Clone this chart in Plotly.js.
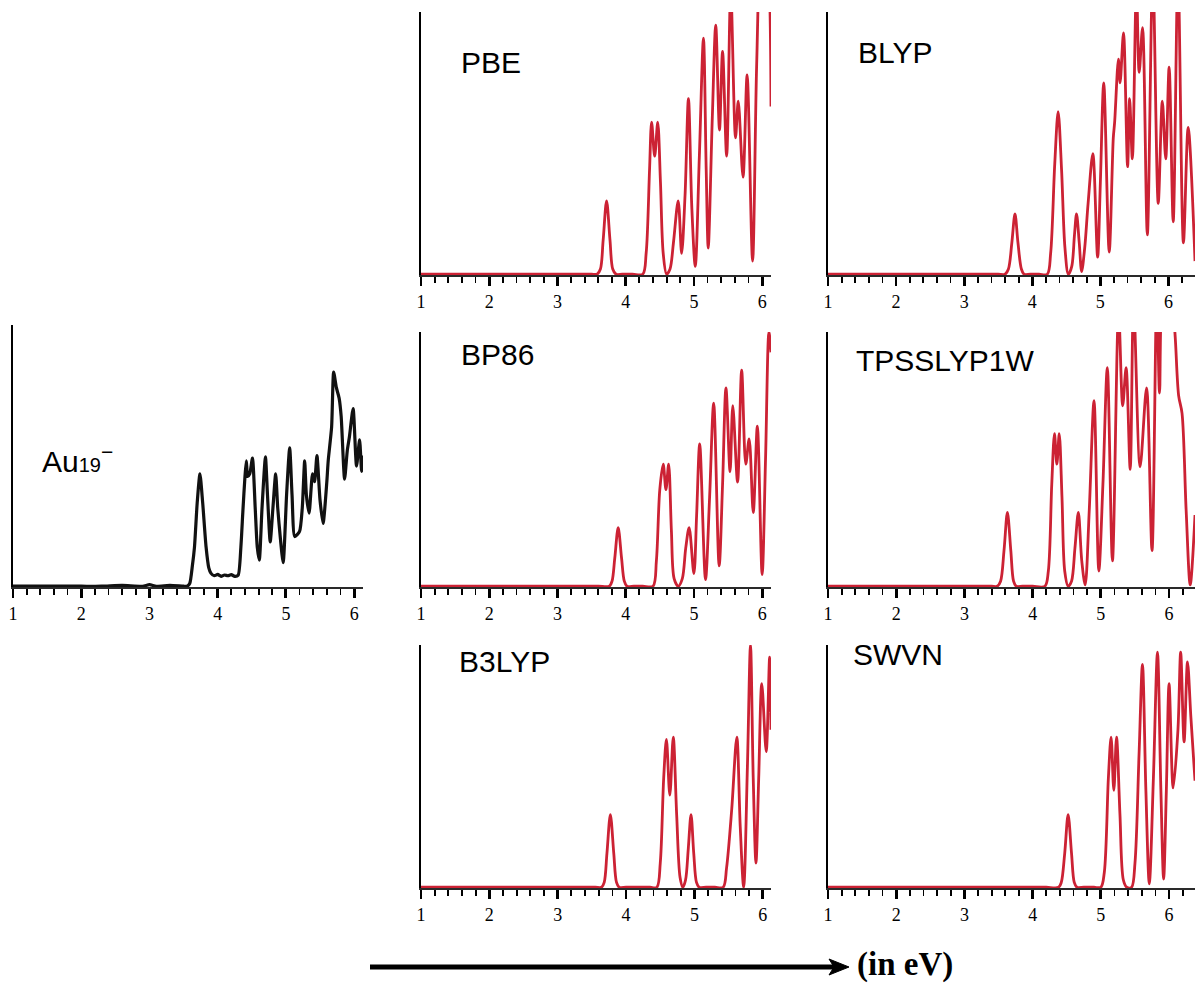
<!DOCTYPE html>
<html>
<head>
<meta charset="utf-8">
<script src="https://cdn.plot.ly/plotly-3.0.1.min.js"></script>
<style>html,body{margin:0;padding:0;background:#fff;}#chart{width:1195px;height:984px;}</style>
</head>
<body>
<div id="chart"></div>
<script>
// ---------- data (photon energy in eV, intensity in arbitrary units, panel top = 100) ----------
const panelLabels = ["PBE", "BLYP", "BP86", "TPSSLYP1W", "B3LYP", "SWVN"];
const tickValues = [1, 2, 3, 4, 5, 6];
const tickLabels = ["1", "2", "3", "4", "5", "6"];

const energyExp = [1,1.5,2.0,2.3,2.6,2.9,3.0,3.1,3.3,3.5,3.55,3.59,3.63,3.66,3.70,3.74,3.78,3.83,3.87,3.90,3.95,4.00,4.05,4.10,4.15,4.20,4.25,4.30,4.34,4.37,4.40,4.42,4.44,4.47,4.51,4.55,4.58,4.61,4.65,4.70,4.73,4.77,4.81,4.85,4.88,4.92,4.96,5.01,5.055,5.09,5.13,5.20,5.24,5.275,5.30,5.34,5.39,5.42,5.455,5.50,5.545,5.60,5.62,5.67,5.70,5.74,5.78,5.81,5.86,5.90,5.93,5.985,6.035,6.08,6.11,6.13];
const intensityExp = [0,0,0,0,0.3,0,0.6,0,0.3,0,0,1,8,15,32,43,32,15,7,5,4,4.5,3.8,4.3,4.0,4.4,3.8,4.2,15,29,42,48,42,43,49,30,15,10,30,49.5,35,17,30,43,30,18,9,35,53,35,19,21,30,48,35,28,43,40,50,33,24,40,48,61,82,76,72,65,41,52,57,68,46,56,44,50];

const energyPBE = [1,1.5,2,2.5,3,3.3,3.5,3.58,3.63,3.67,3.72,3.77,3.81,3.86,3.95,4.1,4.25,4.30,4.35,4.38,4.425,4.47,4.51,4.55,4.60,4.65,4.70,4.77,4.82,4.87,4.92,4.97,5.02,5.08,5.14,5.18,5.21,5.27,5.32,5.375,5.42,5.48,5.54,5.61,5.65,5.72,5.78,5.86,5.92,6.00,6.09,6.13];
const intensityPBE = [0,0,0,0,0,0,0,0,2,13,28,13,2,0,0,0,0,8,40,58,45,58,35,8,0,2,12,28,8,30,67,25,3,45,90,40,10,60,95,55,85,45,108,52,66,37,76,5,80,140,120,64];

const energyBLYP = [1,1.5,2,2.5,3,3.3,3.5,3.60,3.65,3.70,3.746,3.79,3.84,3.88,3.97,4.1,4.22,4.27,4.33,4.38,4.43,4.48,4.53,4.58,4.62,4.65,4.69,4.725,4.77,4.82,4.89,4.96,5.00,5.05,5.13,5.19,5.21,5.265,5.29,5.34,5.40,5.43,5.47,5.53,5.57,5.62,5.69,5.77,5.85,5.91,5.96,6.01,6.07,6.14,6.22,6.29,6.39];
const intensityBLYP = [0,0,0,0,0,0,0,0,2,12,23,12,2,0,0,0,0,8,42,62,40,10,0,3,15,23,12,1,10,27,46,6.5,35,73,8.4,52,58,82,73,92,41,67,44,110,77,94,15,115,27,66,44,79,20,115,12,56,5];

const energyBP86 = [1,1.5,2,2.5,3,3.3,3.6,3.76,3.80,3.84,3.89,3.94,3.98,4.02,4.12,4.25,4.40,4.45,4.50,4.55,4.59,4.63,4.67,4.71,4.77,4.83,4.88,4.93,5.00,5.04,5.085,5.17,5.23,5.29,5.37,5.42,5.47,5.53,5.57,5.64,5.70,5.76,5.81,5.87,5.93,6.00,6.05,6.10,6.13];
const intensityBP86 = [0,0,0,0,0,0,0,0,2,11,23,11,2,0,0,0,0,10,38,48,38,48,22,3,0,3,15,23,5,28,56,2.6,35,72,8,40,78,45,71,41,85,48,58,29,63,4.6,50,100,92];

const energyTPSS = [1,1.5,2,2.5,3,3.2,3.4,3.48,3.53,3.58,3.63,3.68,3.72,3.76,3.85,4.0,4.18,4.23,4.28,4.32,4.355,4.39,4.43,4.47,4.52,4.57,4.62,4.67,4.72,4.77,4.83,4.90,4.97,5.03,5.095,5.17,5.26,5.32,5.37,5.43,5.48,5.575,5.67,5.75,5.82,5.86,5.91,5.98,6.05,6.09,6.14,6.19,6.25,6.31,6.38];
const intensityTPSS = [0,0,0,0,0,0,0,0,2,14,29,14,2,0,0,0,0,6,40,60,48,60,35,6,0,2,15,29,10,0.5,30,73,6,40,86,10,108,71,86,46,112,47,78,14,115,76,120,125,112,98,75,68,30,0.5,28];

const energyB3LYP = [1,1.5,2,2.5,3,3.3,3.55,3.64,3.68,3.72,3.77,3.82,3.86,3.90,4.0,4.2,4.35,4.45,4.50,4.55,4.59,4.64,4.69,4.74,4.79,4.83,4.87,4.91,4.95,4.99,5.03,5.07,5.17,5.3,5.42,5.47,5.545,5.62,5.67,5.72,5.775,5.82,5.86,5.90,5.94,5.985,6.05,6.10,6.12];
const intensityB3LYP = [0,0,0,0,0,0,0,0,2,14,30,14,2,0,0,0,0,0,10,45,61,38,62,30,4,0,3,16,30,14,2,0,0,0,0,8,32,62,25,0,50,100,45,10,45,84,56,95,65];

const energySWVN = [1,1.5,2,2.5,3,3.5,4.0,4.2,4.38,4.42,4.47,4.52,4.57,4.61,4.65,4.75,4.9,5.00,5.05,5.11,5.15,5.19,5.23,5.28,5.33,5.38,5.45,5.50,5.56,5.61,5.66,5.71,5.77,5.83,5.88,5.92,5.96,6.00,6.06,6.13,6.17,6.22,6.27,6.32,6.38];
const intensitySWVN = [0,0,0,0,0,0,0,0,0,2,14,30,14,2,0,0,0,0,6,45,62,40,62,30,3,0,0,10,55,92,40,1.4,45,97,40,3.4,40,84,41,65,97,60,93,70,44];

// ---------- layout helpers ----------
const W = 1195, H = 984;
const fx = p => p / W;
const fy = p => 1 - p / H;
const RED = "rgb(204,34,52)";

const panels = [
  {x: energyExp,  y: intensityExp,  color: "#111", width: 3.2, smooth: 0.6, xd: [13, 363],  yd: [325, 587], xr: 6.13},
  {x: energyPBE,  y: intensityPBE,  color: RED, width: 2.8, smooth: 0.9, xd: [421, 771],  yd: [12, 275],  xr: 6.13},
  {x: energyBLYP, y: intensityBLYP, color: RED, width: 2.8, smooth: 0.9, xd: [828, 1195], yd: [12, 275],  xr: 6.39},
  {x: energyBP86, y: intensityBP86, color: RED, width: 2.8, smooth: 0.9, xd: [421, 771],  yd: [332, 587], xr: 6.13},
  {x: energyTPSS, y: intensityTPSS, color: RED, width: 2.8, smooth: 0.9, xd: [828, 1195], yd: [332, 587], xr: 6.38},
  {x: energyB3LYP,y: intensityB3LYP,color: RED, width: 2.8, smooth: 0.9, xd: [421, 771],  yd: [645, 888], xr: 6.12},
  {x: energySWVN, y: intensitySWVN, color: RED, width: 2.8, smooth: 0.9, xd: [828, 1195], yd: [645, 888], xr: 6.38}
];

const traces = [];
const layout = {
  width: W, height: H,
  margin: {l: 0, r: 0, t: 0, b: 0},
  paper_bgcolor: "#fff", plot_bgcolor: "rgba(0,0,0,0)",
  showlegend: false,
  annotations: [], shapes: []
};

panels.forEach((p, i) => {
  const n = i === 0 ? "" : String(i + 1);
  traces.push({
    type: "scatter", mode: "lines", x: p.x, y: p.y,
    xaxis: "x" + n, yaxis: "y" + n,
    line: {color: p.color, width: p.width, shape: "spline", smoothing: p.smooth},
    hoverinfo: "skip"
  });
  layout["xaxis" + n] = {
    domain: [fx(p.xd[0]), fx(p.xd[1])], anchor: "y" + n,
    range: [1, p.xr], showgrid: false, zeroline: false,
    showline: true, linecolor: "#2a2a2a", linewidth: 2,
    ticks: "outside", ticklen: 9, tickwidth: 2.8, tickcolor: "#000",
    tickmode: "array", tickvals: tickValues, ticktext: tickLabels,
    minor: {dtick: 0.2, tick0: 1, ticks: "outside", ticklen: 6, tickwidth: 1.8, tickcolor: "#000", showgrid: false},
    tickfont: {family: "Liberation Serif, Times New Roman, serif", size: 18, color: "#000"},
    fixedrange: true
  };
  layout["yaxis" + n] = {
    domain: [fy(p.yd[1]), fy(p.yd[0])], anchor: "x" + n,
    range: [-0.3, 100], showgrid: false, zeroline: false,
    showline: true, linecolor: "#000", linewidth: 2.5,
    ticks: "", showticklabels: false, fixedrange: true
  };
});

// panel labels
const labelPos = [[459, 64], [856, 53], [459, 355], [854, 361], [457, 662], [851, 655]];
panelLabels.forEach((t, i) => {
  layout.annotations.push({
    xref: "paper", yref: "paper", x: fx(labelPos[i][0]), y: fy(labelPos[i][1] - 1),
    xanchor: "left", yanchor: "middle", showarrow: false, text: t,
    font: {family: "Liberation Sans, Arial, sans-serif", size: 30, color: "#000"}
  });
});
layout.annotations.push({
  xref: "paper", yref: "paper", x: fx(40), y: fy(459),
  xanchor: "left", yanchor: "middle", showarrow: false,
  text: "Au<span style='font-size:20px'>19</span><sup>−</sup>",
  font: {family: "Liberation Sans, Arial, sans-serif", size: 30, color: "#000"}
});
layout.annotations.push({
  xref: "paper", yref: "paper", x: fx(856), y: fy(984),
  xanchor: "left", yanchor: "bottom", showarrow: false, borderpad: 0,
  text: "<b>(in eV)</b>",
  font: {family: "Liberation Serif, Times New Roman, serif", size: 33, color: "#000"}
});

// energy arrow
layout.shapes.push({
  type: "line", xref: "paper", yref: "paper",
  x0: fx(370), x1: fx(836), y0: fy(967), y1: fy(967),
  line: {color: "#000", width: 5}
});
layout.shapes.push({
  type: "path", xref: "paper", yref: "paper",
  path: `M ${fx(829)} ${fy(959)} L ${fx(849)} ${fy(967)} L ${fx(829)} ${fy(975)} L ${fx(834)} ${fy(967)} Z`,
  fillcolor: "#000", line: {color: "#000", width: 1}
});

Plotly.newPlot("chart", traces, layout, {staticPlot: true, displayModeBar: false});
</script>
</body>
</html>
